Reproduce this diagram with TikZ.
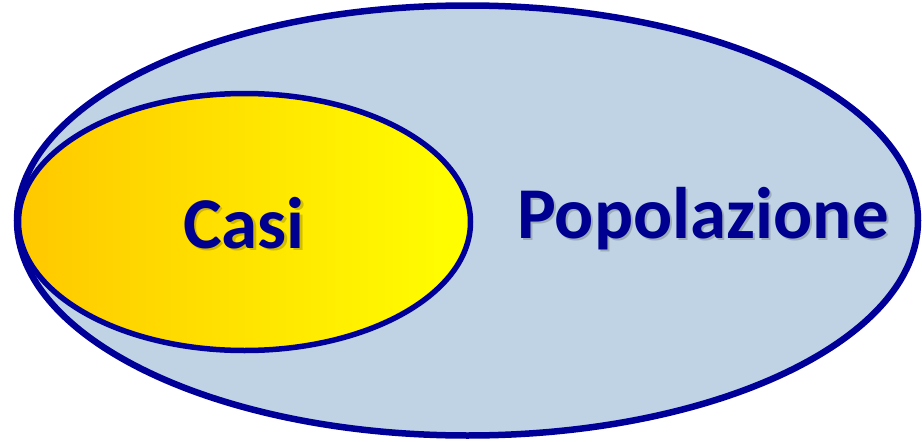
\documentclass[tikz,border=0pt]{standalone}
\usepackage{fontspec}
\setmainfont{Carlito}
\definecolor{edgeblue}{HTML}{000099}
\definecolor{popfill}{HTML}{C0D3E4}
\definecolor{casileft}{HTML}{FFC800}
\definecolor{casiright}{HTML}{FFFF00}
\definecolor{txtblue}{HTML}{000090}
\tikzset{
  setedge/.style={draw=edgeblue, line width=6.5pt},
  biglabel/.style={font=\bfseries\fontsize{73}{80}\selectfont, text=txtblue, inner sep=0pt, anchor=base},
  shadowlabel/.style={font=\bfseries\fontsize{73}{80}\selectfont, text=black, opacity=0.18, inner sep=0pt, anchor=base}
}
\begin{document}
\begin{tikzpicture}[x=1pt,y=-1pt]
\useasboundingbox (0,0) rectangle (922,442);
% population
\path[setedge, fill=popfill] (467.5,220.5) ellipse [x radius=450.5, y radius=215];
% cases
\path[left color=casileft, right color=casiright] (244.5,222) ellipse [x radius=226, y radius=128.5];
\draw[setedge, line width=5.5pt] (244.5,222) ellipse [x radius=226, y radius=128.5];
% labels
\node[shadowlabel] (casishadow) at (246.5,250) {Casi};
\node[biglabel] (casi) at (244,248) {Casi};
\node[shadowlabel] (popshadow) at (705,240) {Popolazione};
\node[biglabel] (pop) at (703,238) {Popolazione};
\end{tikzpicture}
\end{document}
